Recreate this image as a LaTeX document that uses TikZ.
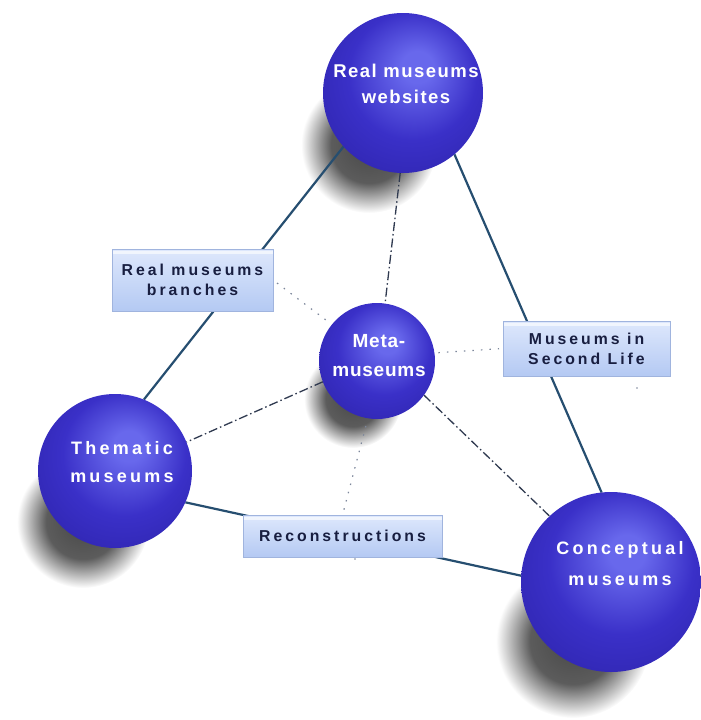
\documentclass[tikz,border=0pt]{standalone}
\usepackage{fontspec}
\setmainfont{Liberation Sans}
\newfontfamily\topfont[LetterSpace=8]{Liberation Sans}
\newfontfamily\metafont[LetterSpace=4]{Liberation Sans}
\newfontfamily\wideballfont[LetterSpace=18]{Liberation Sans}
\newfontfamily\boxfont[LetterSpace=19]{Liberation Sans}
\usetikzlibrary{calc}

\definecolor{sphHi}{RGB}{104,104,236}
\definecolor{sphMid}{RGB}{58,48,200}
\definecolor{sphDark}{RGB}{30,20,136}
\definecolor{linkcol}{RGB}{38,78,112}
\definecolor{dashcol}{RGB}{48,58,80}
\definecolor{faintcol}{RGB}{125,135,155}
\definecolor{boxtop}{RGB}{222,232,252}
\definecolor{boxbot}{RGB}{180,201,243}
\definecolor{boxedge}{RGB}{160,180,222}
\definecolor{boxtext}{RGB}{24,30,64}

% blue ball, lit from the upper right
\pgfdeclareradialshading{bluesphere}{\pgfqpoint{5bp}{9bp}}{%
  color(0bp)=(sphHi); color(5bp)=(sphHi); color(20bp)=(sphMid);
  color(29bp)=(sphMid!75!sphDark); color(36bp)=(sphDark); color(50bp)=(sphDark)}
% soft cast shadow
\pgfdeclareradialshading{softshadow}{\pgfpointorigin}{%
  color(0bp)=(black!72); color(14bp)=(black!64); color(25bp)=(white); color(50bp)=(white)}

\pgfdeclarelayer{shadowlayer}
\pgfdeclarelayer{linklayer}
\pgfsetlayers{shadowlayer,linklayer,main}

\begin{document}
\begin{tikzpicture}[x=1pt,y=-1pt,
  ball/.style={circle, inner sep=0pt, outer sep=0pt, shading=bluesphere, minimum size=#1},
  balltext/.style={text=white, align=center, inner sep=0pt},
  labelbox/.style={rectangle, draw=boxedge, line width=0.8pt, top color=boxtop, bottom color=boxbot,
    text=boxtext, align=center, inner sep=0pt, outer sep=0pt,
    font=\boxfont\bfseries\fontsize{15.8}{20}\selectfont,
    path picture={\fill[white,opacity=0.6] ([yshift=-1.5pt]path picture bounding box.north west)
      rectangle ([yshift=-4.5pt]path picture bounding box.north east);}},
  solidlink/.style={draw=linkcol, line width=2.2pt},
  dashlink/.style={draw=dashcol, line width=1.3pt, dash pattern=on 9pt off 3pt on 1.5pt off 3pt},
  faintlink/.style={draw=faintcol, line width=1.2pt, dash pattern=on 1.5pt off 7pt}]

\useasboundingbox (0,0) rectangle (701,720);

% spheres
\node[ball=160pt] (web) at (403,93) {};
\node[ball=116pt] (meta) at (377,361) {};
\node[ball=154pt] (them) at (115,471) {};
\node[ball=180pt] (conc) at (611,582) {};

\node[balltext, font=\topfont\bfseries\fontsize{18.5}{26}\selectfont] (webtext) at (406,84) {Real museums\\websites};
\node[balltext, font=\metafont\bfseries\fontsize{19}{29}\selectfont] (metatext) at (379,356) {Meta-\\museums};
\node[balltext, font=\wideballfont\bfseries\fontsize{18}{28}\selectfont] (themtext) at (122,462) {Thematic\\museums};
\node[balltext, font=\wideballfont\bfseries\fontsize{18}{31}\selectfont] (conctext) at (620,564) {Conceptual\\museums};

% labelled boxes
\node[labelbox, minimum width=161pt, minimum height=62pt] (branch) at (192.5,280) {Real museums\\branches};
\node[labelbox, minimum width=167pt, minimum height=55pt] (second) at (586.5,348.5) {Museums in\\Second Life};
\node[labelbox, minimum width=199pt, minimum height=42pt] (recon) at (342.5,536) {Reconstructions};

% cast shadows
\begin{pgfonlayer}{shadowlayer}
  \shade[shading=softshadow] (369,145) circle (68);
  \shade[shading=softshadow] (353,399) circle (49);
  \shade[shading=softshadow] (83,522) circle (66);
  \shade[shading=softshadow] (573,641) circle (77);
\end{pgfonlayer}

% connectors
\begin{pgfonlayer}{linklayer}
  \draw[solidlink] (web.222) -- (them.68);
  \draw[solidlink] (web.310) -- (conc.96);
  \draw[solidlink] (them.336) -- (conc.176);
  \draw[dashlink] (web.268) -- (meta.82);
  \draw[dashlink] (meta.201) -- (them.22);
  \draw[dashlink] (meta.324) -- (conc.133);
  \draw[faintlink, shorten <=5pt, shorten >=4pt] (branch.east) -- (meta.141);
  \draw[faintlink, shorten <=4pt, shorten >=4pt] (meta.8) -- (second.west);
  \draw[faintlink, shorten <=8pt, shorten >=4pt] (meta.261) -- (recon.north);
  \fill[faintcol] (355,559) circle (0.9);
  \fill[faintcol] (637,388) circle (0.9);
\end{pgfonlayer}

\end{tikzpicture}
\end{document}
